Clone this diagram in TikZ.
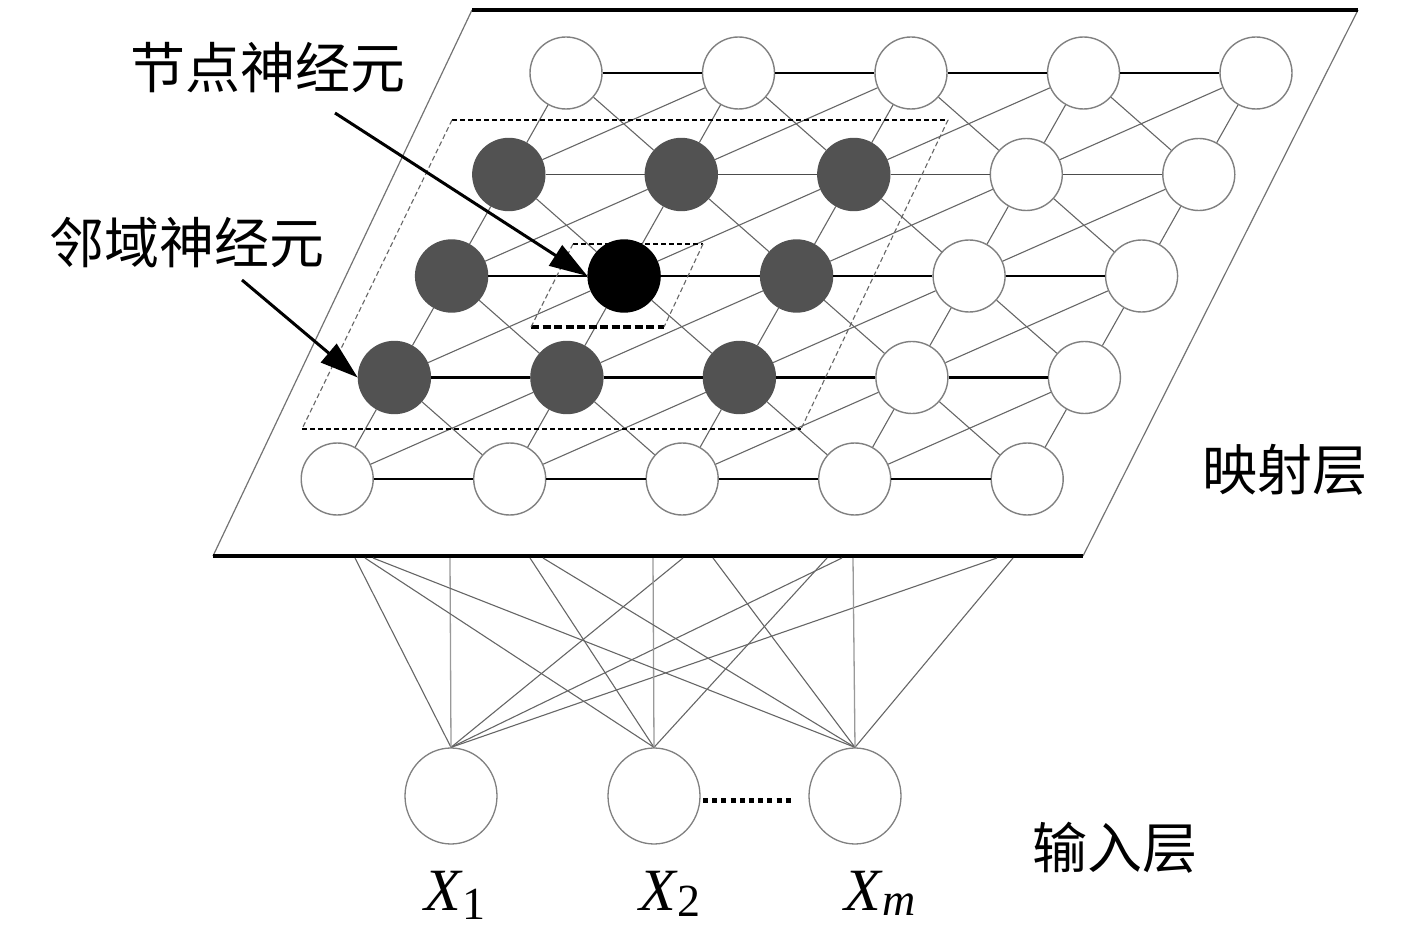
\documentclass[tikz,border=0pt]{standalone}
\usepackage{fontspec}
\setmainfont{Liberation Serif}
\newfontfamily\cjk{Noto Sans CJK SC}
\usetikzlibrary{arrows.meta,shapes.geometric}
\begin{document}
\begin{tikzpicture}[x=1pt,y=-1pt,
  wn/.style={circle,minimum size=72pt,inner sep=0pt,line width=1.4pt,draw=black!50,fill=white},
  gn/.style={circle,minimum size=72pt,inner sep=0pt,line width=1.4pt,draw=black!68,fill=black!68},
  bn/.style={circle,minimum size=72pt,inner sep=0pt,line width=1.4pt,draw=black,fill=black},
  mesh/.style={black!60,line width=1.1pt},
  hrow/.style={black,line width=2.6pt},
  hrowthin/.style={black!70,line width=1.5pt},
  frame/.style={black!55,line width=1.2pt},
  frameedge/.style={black,line width=4pt},
  nbd/.style={black,line width=1.5pt,dash pattern=on 5pt off 3pt},
  nbdside/.style={black!60,line width=1.1pt,dash pattern=on 5pt off 3pt},
  wire/.style={black!60,line width=1.1pt},
  vwire/.style={black!40,line width=1.3pt},
  inp/.style={ellipse,minimum width=92pt,minimum height=96pt,inner sep=0pt,line width=1.3pt,draw=black!50,fill=white},
  ptr/.style={black,line width=3pt,-{Triangle[length=38pt,width=24pt]}},
  cjklab/.style={font=\cjk\fontsize{55}{60}\selectfont},
  xlab/.style={font=\fontsize{60}{60}\selectfont,anchor=base,inner sep=0pt}
]
\useasboundingbox (0,0) rectangle (1417,928);
% mapping layer frame
\coordinate (TL) at (472,10);
\coordinate (TR) at (1358,10);
\coordinate (BR) at (1083,556);
\coordinate (BL) at (213,556);
\draw[frame] (TL) -- (BL);
\draw[frame] (TR) -- (BR);
\draw[frameedge] (TL) -- (TR);
\draw[frameedge] (BL) -- (BR);
% neurons
\foreach \r/\c/\s in {0/0/wn,0/1/wn,0/2/wn,0/3/wn,0/4/wn,
                      1/0/gn,1/1/gn,1/2/gn,1/3/wn,1/4/wn,
                      2/0/gn,2/1/bn,2/2/gn,2/3/wn,2/4/wn,
                      3/0/gn,3/1/gn,3/2/gn,3/3/wn,3/4/wn,
                      4/0/wn,4/1/wn,4/2/wn,4/3/wn,4/4/wn}
  \node[\s] (n\r\c) at ({566-57.2*\r+172.5*\c},{73+101.5*\r}) {};
% mesh connections
\foreach \r [evaluate=\r as \rn using int(\r+1)] in {0,...,3} {
  \foreach \c in {0,...,4} {
    \draw[mesh] (n\r\c) -- (n\rn\c);
  }
  \foreach \c [evaluate=\c as \cn using int(\c+1)] in {0,...,3} {
    \draw[mesh] (n\r\c) -- (n\rn\cn);
    \draw[mesh] (n\rn\c) -- (n\r\cn);
  }
}
% row lines
\foreach \r/\st in {0/hrow,1/hrowthin,2/hrow,3/hrow,4/hrow} {
  \foreach \c [evaluate=\c as \cn using int(\c+1)] in {0,...,3} {
    \draw[\st] (n\r\c) -- (n\r\cn);
  }
}
% neighbourhood regions
\coordinate (A1) at (452,120);
\coordinate (A2) at (948,120);
\coordinate (A3) at (801,429);
\coordinate (A4) at (302,429);
\draw[nbd] (A1) -- (A2);
\draw[nbd] (A4) -- (A3);
\draw[nbdside] (A1) -- (A4);
\draw[nbdside] (A2) -- (A3);
\coordinate (S1) at (573,244);
\coordinate (S2) at (703,244);
\coordinate (S3) at (664,327);
\coordinate (S4) at (531,327);
\draw[nbd,line width=1.3pt] (S1) -- (S2);
\draw[black,line width=3.8pt,dash pattern=on 8pt off 3.5pt] (S4) -- (S3);
\draw[nbdside] (S1) -- (S4);
\draw[nbdside] (S2) -- (S3);
% labels and pointers
\node[cjklab] (lwin) at (268,68) {节点神经元};
\node[cjklab] (lnb) at (187,243) {邻域神经元};
\coordinate (pw) at (335,113);
\coordinate (pn) at (242,280);
\draw[ptr] (pw) -- (n21.west);
\draw[ptr] (pn) -- (n30.west);
\node[cjklab] (lmap) at (1285,470) {映射层};
\node[cjklab] (linp) at (1115,848) {输入层};
% input layer
\node[inp] (x1) at (451,796) {};
\node[inp] (x2) at (654,796) {};
\node[inp] (xm) at (855,796) {};
\coordinate (d1) at (703,800);
\coordinate (d2) at (792,800);
\draw[black,line width=5pt,dash pattern=on 5pt off 4.2pt] (d1) -- (d2);
\foreach \p in {355,365,373,450,530,543,653,683,713,827,842,853,997,1013}
  \coordinate (b\p) at (\p,558);
\foreach \p in {355,683,842,997} \draw[wire] (x1.north) -- (b\p);
\draw[vwire] (x1.north) -- (b450);
\foreach \p in {365,530,827} \draw[wire] (x2.north) -- (b\p);
\draw[vwire] (x2.north) -- (b653);
\foreach \p in {373,543,713,1013} \draw[wire] (xm.north) -- (b\p);
\draw[vwire] (xm.north) -- (b853);
\node[xlab] (lx1) at (455,910) {\textit{X}\kern-1pt\raisebox{-9pt}{\fontsize{46}{46}\selectfont 1}};
\node[xlab] (lx2) at (670,910) {\textit{X}\kern-1pt\raisebox{-6pt}{\fontsize{46}{46}\selectfont 2}};
\node[xlab] (lxm) at (880,910) {\textit{X}\kern-1pt\raisebox{-5pt}{\fontsize{46}{46}\selectfont\textit{m}}};
\end{tikzpicture}
\end{document}
